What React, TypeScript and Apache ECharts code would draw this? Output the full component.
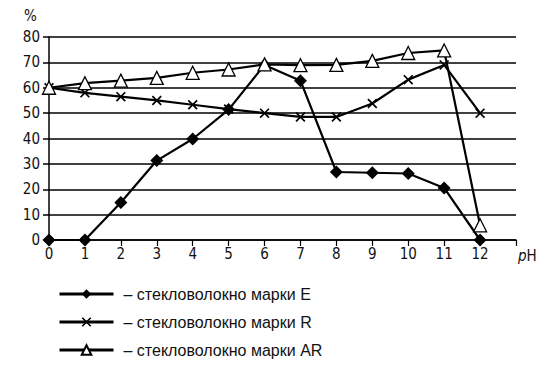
import React, { useEffect, useRef } from "react";
import * as echarts from "echarts";

const phValues = [0, 1, 2, 3, 4, 5, 6, 7, 8, 9, 10, 11, 12];
const seriesNames = [
  "– стекловолокно марки E",
  "– стекловолокно марки R",
  "– стекловолокно марки AR",
];
const valuesE = [0, 0, 14.8, 31.3, 39.8, 51.4, 69, 62.8, 26.8, 26.5, 26.2, 20.5, 0];
const valuesR = [60, 58, 56.5, 55, 53.3, 51.6, 50, 48.5, 48.5, 53.8, 63.2, 69, 50];
const valuesAR = [60, 61.8, 62.8, 63.9, 65.9, 67.2, 69.2, 68.9, 69, 70.6, 73.7, 74.7, 5.8];
const yTicks = [0, 10, 20, 30, 40, 50, 60, 70, 80];

const crossPath =
  "path://M0,1.2L1.2,0L10,8.8L8.8,10Z M8.8,0L10,1.2L1.2,10L0,8.8Z";

const axisFont = "'Liberation Sans Narrow', 'DejaVu Sans Condensed', 'Liberation Sans', sans-serif";
const legendFont = "'Liberation Sans', Arial, sans-serif";

export default function App() {
  const ref = useRef<HTMLDivElement>(null);
  useEffect(() => {
    if (!ref.current) return;
    const chart = echarts.init(ref.current, undefined, { renderer: "svg" });
    const pair = (arr: number[]) => phValues.map((x, i) => [x, arr[i]]);
    chart.setOption({
      animation: false,
      backgroundColor: "#ffffff",
      grid: { left: 49, right: 33, top: 37, bottom: 128 },
      xAxis: {
        type: "value",
        min: 0,
        max: 13,
        interval: 1,
        axisLine: { lineStyle: { color: "#000", width: 1.5 } },
        axisTick: { show: true, length: 6, lineStyle: { color: "#000", width: 1.2 } },
        splitLine: { show: false },
        axisLabel: {
          color: "#111",
          fontSize: 15,
          fontFamily: axisFont,
          margin: 6,
          formatter: (v: number) => (v === 13 ? "" : String(v)),
        },
      },
      yAxis: {
        type: "value",
        min: 0,
        max: 80,
        interval: 10,
        axisLine: { show: true, lineStyle: { color: "#000", width: 1.5 } },
        axisTick: { show: true, length: 6, lineStyle: { color: "#000", width: 1.5 } },
        splitLine: { show: true, lineStyle: { color: "#000", width: 1.5 } },
        axisLabel: {
          color: "#111",
          fontSize: 15,
          fontFamily: axisFont,
          margin: 9,
          formatter: (v: number) => (yTicks.includes(v) ? String(v) : ""),
        },
      },
      legend: {
        orient: "vertical",
        left: 53,
        top: 281,
        itemWidth: 54,
        itemHeight: 12,
        itemGap: 12,
        selectedMode: false,
        lineStyle: { width: 3 },
        textStyle: { color: "#111", fontSize: 16, fontFamily: legendFont, padding: [0, 0, 0, 5] },
        data: seriesNames,
      },
      graphic: [
        {
          type: "text",
          left: 24,
          top: 8,
          style: { text: "%", fontSize: 15, fontFamily: axisFont, fill: "#111" },
        },
        {
          type: "text",
          left: 518,
          top: 248,
          style: {
            text: "{i|p}H",
            fontSize: 15,
            fontFamily: axisFont,
            fill: "#111",
            rich: { i: { fontStyle: "italic", fontSize: 15, fontFamily: axisFont, fill: "#111" } },
          },
        },
      ],
      series: [
        {
          name: seriesNames[0],
          type: "line",
          data: pair(valuesE),
          symbol: "diamond",
          symbolSize: 13,
          clip: false,
          lineStyle: { color: "#000", width: 2.2 },
          itemStyle: { color: "#000" },
          z: 3,
        },
        {
          name: seriesNames[1],
          type: "line",
          data: pair(valuesR),
          symbol: crossPath,
          symbolSize: 10,
          clip: false,
          lineStyle: { color: "#000", width: 2.2 },
          itemStyle: { color: "#000" },
          z: 2,
        },
        {
          name: seriesNames[2],
          type: "line",
          data: pair(valuesAR),
          symbol: "triangle",
          symbolSize: 13,
          clip: false,
          lineStyle: { color: "#000", width: 2.2 },
          itemStyle: { color: "#fff", borderColor: "#000", borderWidth: 1.3 },
          z: 4,
        },
      ],
    });
    return () => chart.dispose();
  }, []);
  return (
    <div
      ref={ref}
      style={{ position: "absolute", left: 0, top: 0, width: 549, height: 368 }}
    />
  );
}
